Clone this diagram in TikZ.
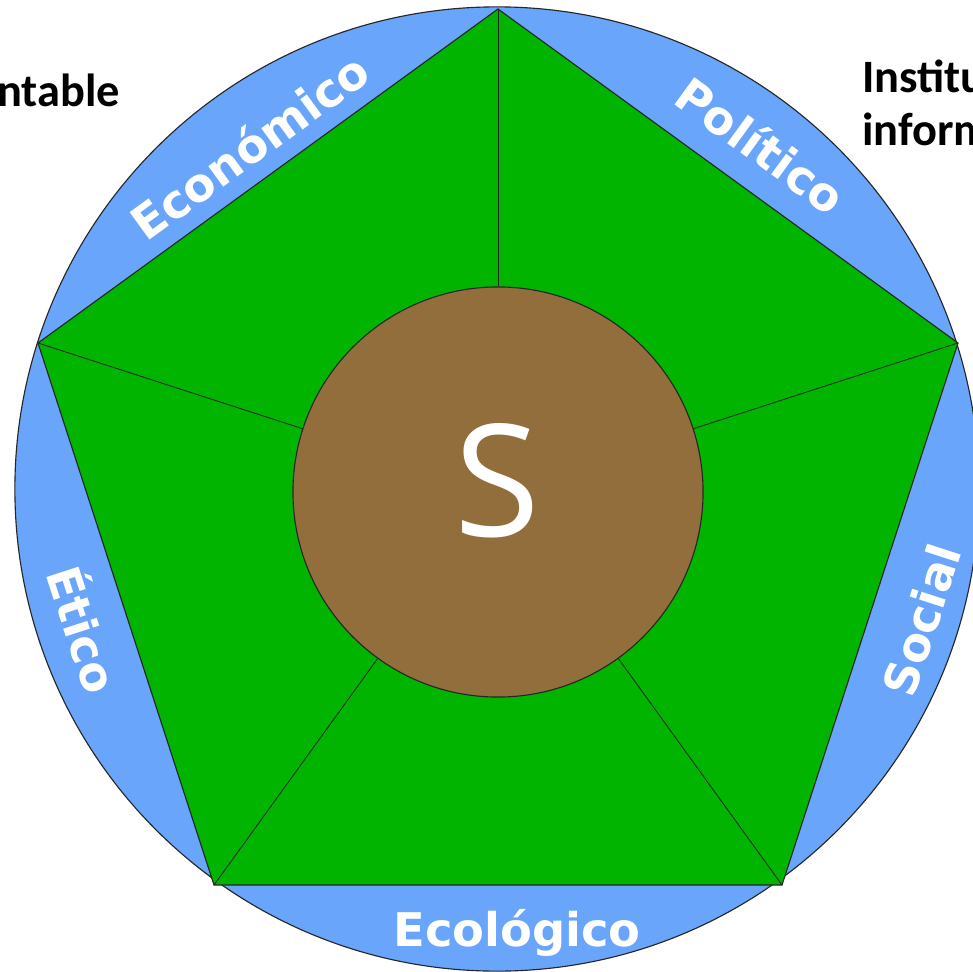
\documentclass[tikz,border=0pt]{standalone}
\usepackage{fontspec}
\newfontfamily\labelfont{DejaVu Sans}
\newfontfamily\calfont{Carlito}
\newfontfamily\sfont{Open Sans}
\definecolor{bandblue}{RGB}{105,165,250}
\definecolor{pentgreen}{RGB}{0,180,0}
\definecolor{corebrown}{RGB}{146,110,60}
\tikzset{
  outline/.style={draw=black!85, line width=0.8pt},
  lbl/.style={font=\labelfont\bfseries\fontsize{33pt}{36pt}\selectfont, text=white,
              inner sep=0pt, text height=24pt, text depth=0pt, anchor=center},
  corner/.style={font=\calfont\bfseries\fontsize{33pt}{38pt}\selectfont, text=black,
                 inner sep=0pt, anchor=base west}
}
\begin{document}
\begin{tikzpicture}[x=0.025cm,y=-0.025cm]
\useasboundingbox (0,0) rectangle (973,972);
\clip (0,0) rectangle (973,972);
\fill[white] (0,0) rectangle (973,972);
% outer band
\node[circle, fill=bandblue, outline, minimum size=24.1cm, inner sep=0pt] (outer) at (497,489) {};
% pentagon vertices
\coordinate (vt) at (498,9);
\coordinate (vr) at (958,343);
\coordinate (vbr) at (782,885);
\coordinate (vbl) at (214,885);
\coordinate (vl) at (38,343);
\fill[pentgreen] (vt) -- (vr) -- (vbr) -- (vbl) -- (vl) -- cycle;
\draw[outline] (vt) -- (vr) -- (vbr) -- (vbl) -- (vl) -- cycle;
% inner circle
\node[circle, fill=corebrown, outline, minimum size=10.25cm, inner sep=0pt] (core) at (498,492) {};
% spokes
\foreach \v in {vt,vr,vbr,vbl,vl} \draw[draw=black!85, line width=0.6pt] (\v) -- (core);
% centre letter
\node[font=\sfont\fontsize{111pt}{120pt}\selectfont, text=white, inner sep=0pt,
      text height=81pt, text depth=0pt] (s) at (497,480) {S};
% band labels
\node[lbl, rotate=36] (eco) at (250,147) {Económico};
\node[lbl, rotate=-36] (pol) at (760,146) {Político};
\node[lbl, rotate=72] (soc) at (922,620) {Social};
\node[lbl, rotate=-72] (eti) at (82,630) {Ético};
\node[lbl] (ecol) at (517,930) {Ecológico};
% corner texts
\node[corner] (t1) at (-3,107) {ntable};
\node[corner] (t2) at (862,93) {Institu};
\node[corner] (t3) at (862,146) {inform};
\end{tikzpicture}
\end{document}
